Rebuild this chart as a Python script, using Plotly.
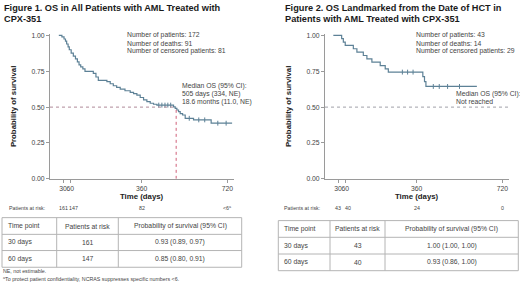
import numpy as np
import plotly.graph_objects as go

W, H = 520, 285

# ---------------- data ----------------
os1_days = [12, 25, 34, 40, 45, 51, 56, 64, 73, 82, 90, 97, 104, 113, 122, 157, 168, 178, 214, 228,
            241, 255, 270, 290, 312, 326, 340, 354, 368, 382, 396, 410, 424, 494, 501, 508, 515, 522,
            532, 543, 578, 652, 740]
os1_surv = [1.000, 0.990, 0.975, 0.960, 0.940, 0.920, 0.900, 0.877, 0.856, 0.836, 0.815, 0.795, 0.780,
            0.767, 0.749, 0.735, 0.710, 0.687, 0.678, 0.663, 0.649, 0.637, 0.625, 0.614, 0.603, 0.594,
            0.584, 0.567, 0.550, 0.538, 0.527, 0.520, 0.514, 0.502, 0.491, 0.480, 0.468, 0.455, 0.445,
            0.422, 0.411, 0.388, 0.388]
os1_censor_days = [432, 445, 458, 470, 482, 560, 600, 625, 680, 715]

os2_days = [10, 45, 52, 60, 94, 109, 136, 151, 172, 207, 228, 241, 386, 393, 399, 613]
os2_surv = [1.000, 0.977, 0.953, 0.930, 0.907, 0.884, 0.860, 0.837, 0.814, 0.790, 0.767, 0.744,
            0.713, 0.678, 0.644, 0.644]
os2_censor_days = [300, 322, 345, 430, 455, 490, 540]

median1_days = 505

x_tickvals = [30, 60, 360, 720]
x_ticktext = ["30", "60", "360", "720"]
y_tickvals = [0, 0.25, 0.5, 0.75, 1.0]

risk1 = ["161", "147", "82", "<6<sup>a</sup>"]
risk2 = ["43", "40", "24", "0"]

titles1 = ["Figure 1. OS in All Patients with AML Treated with", "CPX-351"]
titles2 = ["Figure 2. OS Landmarked from the Date of HCT in", "Patients with AML Treated with CPX-351"]
info1 = ["Number of patients: 172", "Number of deaths: 91", "Number of censored patients: 81"]
info2 = ["Number of patients: 43", "Number of deaths: 14", "Number of censored patients: 29"]
median1_txt = ["Median OS (95% CI):", "505 days (334, NE)", "18.6 months (11.0, NE)"]
median2_txt = ["Median OS (95% CI):", "Not reached"]

table_header = ["Time point", "Patients at risk", "Probability of survival (95% CI)"]
table1_time = ["30 days", "60 days"]
table1_risk = ["161", "147"]
table1_prob = ["0.93 (0.89, 0.97)", "0.85 (0.80, 0.91)"]
table2_time = ["30 days", "60 days"]
table2_risk = ["43", "40"]
table2_prob = ["1.00 (1.00, 1.00)", "0.93 (0.86, 1.00)"]

footnotes = ["NE, not estimable.",
             "<sup>a</sup>To protect patient confidentiality, NCRAS suppresses specific numbers <6."]

# ---------------- style ----------------
FONT = "Liberation Sans, Arial, sans-serif"
CURVE = "#5d8196"
AXIS = "#9a9a9a"
TXT = "#444444"
GRID = "#b4b4b4"
XR = [-25, 748]
YR = [0, 1.01]
RISK_SHIFT = [0, 3, 0, 0]


def px(x):
    return x / W


def py(y):
    return 1 - y / H


def surv_at(days, surv, t):
    idx = np.searchsorted(np.array(days), np.array(t), side="right") - 1
    return np.array(surv)[idx]


fig = go.Figure()

# curves
for days, surv, cens, xa, ya in [
    (os1_days, os1_surv, os1_censor_days, "x", "y"),
    (os2_days, os2_surv, os2_censor_days, "x2", "y2"),
]:
    fig.add_trace(go.Scatter(x=days, y=surv, mode="lines", line=dict(color=CURVE, width=1.2, shape="hv"),
                             xaxis=xa, yaxis=ya, showlegend=False, hoverinfo="skip"))
    fig.add_trace(go.Scatter(x=cens, y=surv_at(days, surv, cens), mode="markers",
                             marker=dict(symbol="line-ns-open", size=3.5, color=CURVE,
                                         line=dict(color=CURVE, width=1)),
                             xaxis=xa, yaxis=ya, showlegend=False, hoverinfo="skip"))

# median reference lines
fig.add_trace(go.Scatter(x=[XR[0], median1_days], y=[0.5, 0.5], mode="lines",
                         line=dict(color="#b08a98", width=1, dash="dot"), xaxis="x", yaxis="y",
                         showlegend=False, hoverinfo="skip"))
fig.add_trace(go.Scatter(x=[median1_days, median1_days], y=[0, 0.5], mode="lines",
                         line=dict(color="#d0607a", width=1, dash="dot"), xaxis="x", yaxis="y",
                         showlegend=False, hoverinfo="skip"))
fig.add_trace(go.Scatter(x=[XR[0], XR[1]], y=[0.5, 0.5], mode="lines",
                         line=dict(color="#a0a0a8", width=1, dash="dot"), xaxis="x2", yaxis="y2",
                         showlegend=False, hoverinfo="skip"))

axis_common = dict(showline=True, linecolor=AXIS, linewidth=1, ticks="outside", ticklen=3,
                   tickcolor=AXIS, showgrid=False, zeroline=False,
                   tickfont=dict(family=FONT, size=6.8, color=TXT))
xaxis_common = dict(axis_common, range=XR, tickvals=x_tickvals, ticktext=x_ticktext, tickangle=0)
yaxis_common = dict(axis_common, range=YR, tickvals=y_tickvals, tickformat=".2f")

ydom = [py(180), py(34 - 0.01 * 146)]

ann = []
shapes = []


def txt(x, y, s, size=6.8, bold=False, color=TXT, xanchor="left", xref="paper", textangle=0, xshift=0):
    ann.append(dict(x=x if xref != "paper" else px(x), y=py(y), xref=xref, yref="paper",
                    text=f"<b>{s}</b>" if bold else s, showarrow=False, xanchor=xanchor,
                    yanchor="middle", textangle=textangle, xshift=xshift,
                    font=dict(family=FONT, size=size, color=color)))


def hline(x0, x1, y):
    shapes.append(dict(type="line", xref="paper", yref="paper", x0=px(x0), x1=px(x1), y0=py(y), y1=py(y),
                       line=dict(color=GRID, width=1)))


def vline(x, y0, y1):
    shapes.append(dict(type="line", xref="paper", yref="paper", x0=px(x), x1=px(x), y0=py(y0), y1=py(y1),
                       line=dict(color=GRID, width=1)))


# tables (drawn from the table lists)
for xe, ye, t, r, p in [
    ([2, 56.7, 118.3, 241.7], [219.5, 236.5, 253, 270], table1_time, table1_risk, table1_prob),
    ([278.3, 330, 385, 518.3], [222.5, 239.5, 256.5, 273.5], table2_time, table2_risk, table2_prob),
]:
    for yy in ye:
        hline(xe[0], xe[-1], yy)
    for xx in xe:
        vline(xx, ye[0], ye[-1])
    rows = [table_header] + [[a, b, c] for a, b, c in zip(t, r, p)]
    for ri, row in enumerate(rows):
        yc = (ye[ri] + ye[ri + 1]) / 2
        txt(xe[0] + 4, yc, row[0])
        txt((xe[1] + xe[2]) / 2, yc, row[1], xanchor="center")
        txt((xe[2] + xe[3]) / 2, yc, row[2], xanchor="center")

# titles
for i, s in enumerate(titles1):
    txt(2, 6 + 11.5 * i, s, size=9.2, bold=True, color="#1a1a1a")
for i, s in enumerate(titles2):
    txt(283, 6 + 11.5 * i, s, size=9.2, bold=True, color="#1a1a1a")

# info text
for i, s in enumerate(info1):
    txt(125, 34 + 8 * i, s)
for i, s in enumerate(info2):
    txt(414, 34 + 8 * i, s)
for i, s in enumerate(median1_txt):
    txt(180, 85 + 8.3 * i, s)
for i, s in enumerate(median2_txt):
    txt(454, 93.3 + 8.3 * i, s)

# axis titles
for xc in [13, 288]:
    txt(xc, 107, "Probability of survival", size=7.8, bold=True, color="#222", xanchor="center",
        textangle=-90)
txt(141.5, 198, "Time (days)", size=7.8, bold=True, color="#222", xanchor="center")
txt(416.5, 198, "Time (days)", size=7.8, bold=True, color="#222", xanchor="center")

# patients at risk rows
txt(7, 210, "Patients at risk:", size=5.3)
txt(282, 210, "Patients at risk:", size=5.3)
for xv, s, sh in zip(x_tickvals, risk1, RISK_SHIFT):
    txt(xv, 210, s, size=5.3, xanchor="center", xref="x", xshift=sh)
for xv, s, sh in zip(x_tickvals, risk2, RISK_SHIFT):
    txt(xv, 210, s, size=5.3, xanchor="center", xref="x2", xshift=sh)

# footnotes
txt(1, 274, footnotes[0], size=5.3)
txt(1, 281.5, footnotes[1], size=5.3)

fig.update_layout(
    width=W, height=H, margin=dict(l=0, r=0, t=0, b=0),
    paper_bgcolor="white", plot_bgcolor="white",
    xaxis=dict(xaxis_common, domain=[px(50), px(234)], anchor="y"),
    yaxis=dict(yaxis_common, domain=ydom, anchor="x"),
    xaxis2=dict(xaxis_common, domain=[px(325), px(509)], anchor="y2"),
    yaxis2=dict(yaxis_common, domain=ydom, anchor="x2"),
    annotations=ann, shapes=shapes,
)

fig.write_html("out.html", config={"displayModeBar": False},
               post_script="document.body.style.margin='0';")
